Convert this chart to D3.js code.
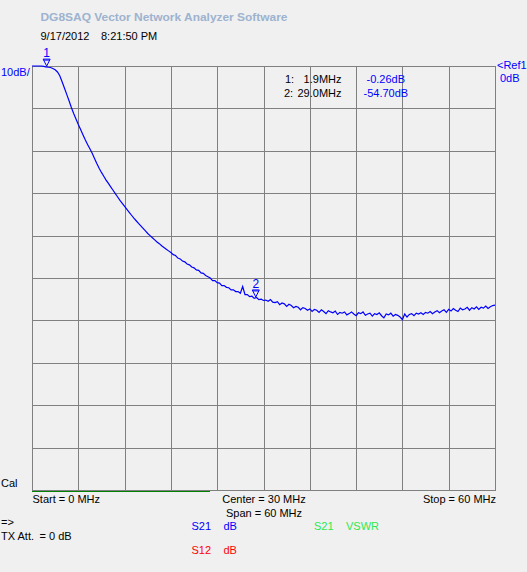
<!DOCTYPE html>
<html>
<head>
<meta charset="utf-8">
<script src="https://cdn.jsdelivr.net/npm/d3@7/dist/d3.min.js"></script>
<style>
  html, body { margin: 0; padding: 0; background: #f0f0f0; }
  svg { display: block; }
  text { font-family: "Liberation Sans", Arial, sans-serif; font-size: 11px; }
</style>
</head>
<body>
<svg id="chart" width="527" height="572"></svg>
<script>
// ---- data ----
const startMHz = 0;
const stopMHz = 60;
const stepMHz = 0.3;
const refDb = 0;
const dbPerDiv = 10;
const xDivisions = 10;
const yDivisions = 10;

// S21 magnitude (dB) sampled every 0.3 MHz from 0 to 60 MHz
const s21Db = [
  0, 0, 0, 0, 0, -0.1, -0.2, -0.3, -0.35, -0.6,
  -0.9, -1.4, -2.3, -3.7, -5.2, -6.7, -8.2, -9.8, -11.2, -12.5,
  -13.8, -15.0, -16.2, -17.4, -18.5, -19.5, -20.6, -21.8, -23.0, -24.1,
  -25.1, -26.0, -26.9, -27.7, -28.5, -29.3, -30.1, -30.9, -31.7, -32.4,
  -33.1, -33.8, -34.5, -35.2, -35.9, -36.5, -37.1, -37.7, -38.3, -38.9,
  -39.5, -40.0, -40.5, -41.0, -41.5, -41.9, -42.4, -42.8, -43.2, -43.6,
  -44.0, -44.5, -44.7, -45.3, -45.5, -46.0, -46.2, -46.7, -46.9, -47.4,
  -47.6, -48.1, -48.2, -48.8, -48.9, -49.4, -49.7, -50.0, -50.6, -50.6,
  -51.1, -51.2, -51.8, -51.8, -52.2, -52.3, -52.8, -52.8, -53.2, -53.2,
  -53.6, -52.0, -53.9, -53.9, -54.4, -54.3, -54.8, -54.6, -55.1, -55.0,
  -55.3,
  -55.2, -55.5, -55.1, -55.7, -55.8, -55.6, -56.3, -55.9, -56.1, -56.7,
  -56.2, -56.5, -57.0, -56.7, -56.9, -57.5, -57.0, -57.2, -57.6, -57.3,
  -57.9, -57.4, -57.6, -58.1, -57.5, -57.9, -58.4, -57.7, -58.0, -58.2,
  -57.8, -58.6, -58.1, -58.3, -58.0, -58.7, -58.4, -58.0, -58.5, -58.9,
  -58.2, -58.4, -58.0, -58.8, -58.5, -58.3, -59.0, -58.4, -58.6, -58.2,
  -58.9, -59.4, -58.5, -58.7, -58.3, -59.0, -58.6, -58.8, -59.2, -59.8,
  -58.5, -59.2, -58.6, -58.4, -58.9, -58.3, -58.5, -58.2, -58.6, -58.1,
  -58.3, -57.9, -58.4, -58.0, -57.7, -58.2, -57.8, -57.5, -58.1, -57.4,
  -57.8, -57.2, -57.6, -57.9, -57.1, -57.5, -57.3, -56.9, -57.6, -57.0,
  -57.3, -56.8, -57.4, -56.9, -57.1, -56.6, -57.2, -56.8, -56.5, -56.4
];

const markerIds = ["1", "2"];
const markerFreqMHz = [1.9, 29.0];
const markerDb = [-0.26, -54.70];
const markerFreqLabels = ["1.9MHz", "29.0MHz"];
const markerDbLabels = ["-0.26dB", "-54.70dB"];

// ---- layout ----
const svg = d3.select("#chart");
const pLeft = 32, pRight = 495, pTop = 66, pBottom = 490;

const x = d3.scaleLinear().domain([startMHz, stopMHz]).range([pLeft, pRight]);
const y = d3.scaleLinear().domain([refDb - dbPerDiv * yDivisions, refDb]).range([pBottom, pTop]);

svg.append("rect").attr("width", 527).attr("height", 572).attr("fill", "#f0f0f0");

// grid
const xTicks = d3.range(0, xDivisions + 1).map(i => startMHz + i * (stopMHz - startMHz) / xDivisions);
const yTicks = d3.range(0, yDivisions + 1).map(i => refDb - i * dbPerDiv);
const grid = svg.append("g").attr("stroke", "#808080").attr("stroke-width", 1).attr("shape-rendering", "crispEdges");
grid.selectAll("line.v").data(xTicks).join("line").attr("class", "v")
  .attr("x1", d => Math.round(x(d)) + 0.5).attr("x2", d => Math.round(x(d)) + 0.5)
  .attr("y1", pTop).attr("y2", pBottom + 0.5);
grid.selectAll("line.h").data(yTicks).join("line").attr("class", "h")
  .attr("y1", d => Math.round(y(d)) + 0.5).attr("y2", d => Math.round(y(d)) + 0.5)
  .attr("x1", pLeft).attr("x2", pRight + 1);

// green sweep progress line
svg.append("line").attr("x1", pLeft).attr("x2", 210).attr("y1", 491.5).attr("y2", 491.5)
  .attr("stroke", "#008000").attr("stroke-width", 1).attr("shape-rendering", "crispEdges");

// trace
const pts = s21Db.map((v, i) => [startMHz + i * stepMHz, v]);
const line = d3.line().x(d => x(d[0])).y(d => y(d[1]));
svg.append("path").attr("d", line(pts)).attr("fill", "none")
  .attr("stroke", "#0000ff").attr("stroke-width", 1.2);

// markers
markerIds.forEach((id, i) => {
  const mx = x(markerFreqMHz[i]);
  const my = Math.max(y(markerDb[i]) - 1, pTop);
  svg.append("path")
    .attr("d", `M${mx - 3.5},${my - 7} L${mx + 3.5},${my - 7} L${mx},${my} Z M${mx - 3},${my - 6} L${mx + 3},${my - 6}`)
    .attr("fill", "none").attr("stroke", "#0000ff").attr("stroke-width", 1);
  svg.append("text").attr("x", mx).attr("y", my - 9).attr("text-anchor", "middle")
    .attr("fill", "#0000ff").style("font-size", "12px").text(id);
});

// texts
function txt(xp, yp, s, color, anchor) {
  return svg.append("text").attr("x", xp).attr("y", yp).attr("fill", color || "#000")
    .attr("text-anchor", anchor || "start").text(s);
}
txt(40.5, 20.5, "DG8SAQ Vector Network Analyzer Software", "#9db3cf")
  .style("font-weight", "bold").attr("textLength", 247).attr("lengthAdjust", "spacingAndGlyphs");
txt(40.5, 40, "9/17/2012");
txt(101, 40, "8:21:50 PM");
txt(1, 76, "10dB/", "#0000ff");
txt(497, 69, "<Ref1", "#0000ff");
txt(500, 82, "0dB", "#0000ff");

const rowY = [83, 97];
const idX = [285, 284];
const dbX = [366.5, 363.5];
markerIds.forEach((id, i) => {
  txt(idX[i], rowY[i], id + ":");
  txt(341.5, rowY[i], markerFreqLabels[i], "#000", "end");
  txt(dbX[i], rowY[i], markerDbLabels[i], "#0000ff");
});

txt(1, 487, "Cal");
txt(32.5, 503, "Start = " + startMHz + " MHz");
txt(264, 503, "Center = " + ((startMHz + stopMHz) / 2) + " MHz", "#000", "middle");
txt(264, 517, "Span = " + (stopMHz - startMHz) + " MHz", "#000", "middle");
txt(496, 503, "Stop = " + stopMHz + " MHz", "#000", "end");
txt(1, 526, "=>");
txt(1, 540, "TX Att.");
txt(39.5, 540, "= 0 dB");
txt(191.5, 530, "S21", "#0000ff");
txt(223.5, 530, "dB", "#0000ff");
txt(314, 530, "S21", "#2ee84e");
txt(346, 530, "VSWR", "#2ee84e");
txt(191.5, 554, "S12", "#ff0000");
txt(223.5, 554, "dB", "#ff0000");
</script>
</body>
</html>
